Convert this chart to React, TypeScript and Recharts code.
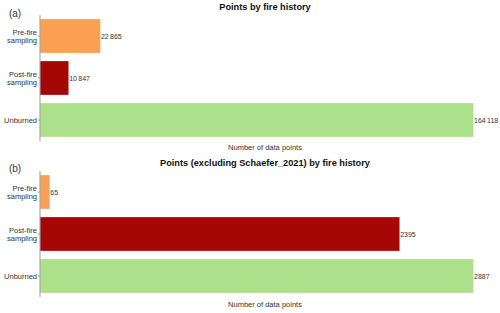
import React from "react";
import { BarChart, Bar, XAxis, YAxis, Cell, LabelList } from "recharts";

const categories = ["Pre-fire sampling", "Post-fire sampling", "Unburned"];
const tickLines = [["Pre-fire", "sampling"], ["Post-fire", "sampling"], ["Unburned"]];
const colors = ["#FBA052", "#A50606", "#ADE08B"];
const allPoints = [22865, 10847, 164118];
const excludingPoints = [65, 2395, 2887];
const titleA = "Points by fire history";
const titleB = "Points (excluding Schaefer_2021) by fire history";
const xLabel = "Number of data points";

const fmt = (v: number) =>
  v >= 10000 ? String(v).replace(/\B(?=(\d{3})+(?!\d))/g, "\u2009") : String(v);

const font = "'Liberation Sans', Arial, sans-serif";

const Tick = (props: any) => {
  const { x, y, payload } = props;
  const idx = categories.indexOf(payload.value);
  const lines = tickLines[idx] || [payload.value];
  const lh = 8.6;
  const start = y - ((lines.length - 1) * lh) / 2;
  return (
    <g>
      <line x1={x - 2} x2={x} y1={y} y2={y} stroke="#999" strokeWidth={1} />
      <text x={x - 3} y={start} textAnchor="end" fontSize={7.5} fill="#333" fontFamily={font} dominantBaseline="central">
        {lines.map((l, i) => (
          <tspan key={i} x={x - 3} y={start + i * lh}>
            {l}
          </tspan>
        ))}
      </text>
    </g>
  );
};

const ValueLabel = (props: any) => {
  const { x, y, width, height, value } = props;
  return (
    <text x={x + width + 0.5} y={y + height / 2} fontSize={7} fill="#333" fontFamily={font} dominantBaseline="central">
      {fmt(value)}
    </text>
  );
};

const Panel = ({ values, height, top, bottom }: { values: number[]; height: number; top: number; bottom: number }) => {
  const data = categories.map((c, i) => ({ name: c, value: values[i] }));
  return (
    <BarChart
      width={500}
      height={height}
      data={data}
      layout="vertical"
      margin={{ top, right: 10, bottom, left: 0 }}
      barSize={34}
    >
      <XAxis type="number" hide domain={[0, (m: number) => m * 1.038]} />
      <YAxis
        type="category"
        dataKey="name"
        width={40}
        axisLine={{ stroke: "#999", strokeWidth: 1 }}
        tickLine={false}
        tickSize={0}
        tickMargin={0}
        tick={<Tick />}
        interval={0}
      />
      <Bar dataKey="value" isAnimationActive={false} stroke="#ffffff" strokeOpacity={0.5} strokeWidth={0.5}>
        {data.map((d, i) => (
          <Cell key={d.name} fill={colors[i]} />
        ))}
        <LabelList dataKey="value" content={<ValueLabel />} />
      </Bar>
    </BarChart>
  );
};

const textStyle: React.CSSProperties = {
  position: "absolute",
  fontFamily: font,
  whiteSpace: "nowrap",
  lineHeight: 1,
  transform: "translate(-50%, -50%)",
};

export default function App() {
  return (
    <div style={{ position: "absolute", left: 0, top: 0, width: 500, height: 313, background: "#fff", overflow: "hidden" }}>
      <div style={{ position: "absolute", left: 0, top: 0 }}>
        <Panel values={allPoints} height={155} top={15} bottom={14} />
      </div>
      <div style={{ position: "absolute", left: 0, top: 155 }}>
        <Panel values={excludingPoints} height={158} top={16} bottom={16} />
      </div>
      <div style={{ ...textStyle, left: 265, top: 8, fontSize: 9.2, fontWeight: "bold", color: "#111" }}>{titleA}</div>
      <div style={{ ...textStyle, left: 265, top: 164, fontSize: 9.2, fontWeight: "bold", color: "#111" }}>{titleB}</div>
      <div style={{ ...textStyle, left: 15, top: 14, fontSize: 10, color: "#333" }}>(a)</div>
      <div style={{ ...textStyle, left: 15, top: 169, fontSize: 10, color: "#333" }}>(b)</div>
      <div style={{ ...textStyle, left: 265, top: 148, fontSize: 7.5, color: "#333" }}>{xLabel}</div>
      <div style={{ ...textStyle, left: 265, top: 305, fontSize: 7.5, color: "#333" }}>{xLabel}</div>
    </div>
  );
}
